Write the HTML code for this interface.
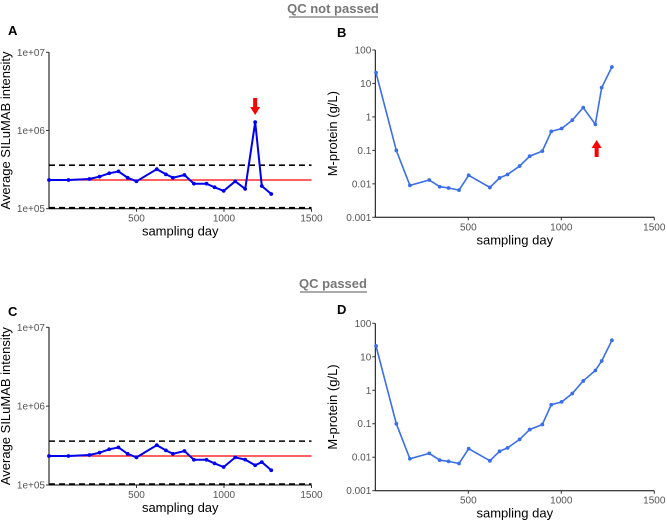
<!DOCTYPE html>
<html><head><meta charset="utf-8"><style>
body{margin:0;background:#fff}
svg{display:block;font-family:"Liberation Sans",Arial,sans-serif}
</style></head><body>
<svg id="s" width="667" height="522" xmlns="http://www.w3.org/2000/svg">
<text x="333" y="13" text-anchor="middle" font-size="13" font-weight="bold" fill="#777">QC not passed</text>
<line x1="289" y1="17" x2="378" y2="17" stroke="#777" stroke-width="1.2"/>
<text x="333" y="288" text-anchor="middle" font-size="13" font-weight="bold" fill="#777">QC passed</text>
<line x1="300" y1="292" x2="367" y2="292" stroke="#777" stroke-width="1.2"/>
</svg>
<script>
const daysA=[0,111,231,289,344,397,449,500,616,668,708,774,828,900,946,998,1064,1121,1178,1216,1270];
const silA=[2.33e5,2.33e5,2.4e5,2.57e5,2.84e5,3.0e5,2.49e5,2.24e5,3.2e5,2.75e5,2.49e5,2.7e5,2.09e5,2.09e5,1.88e5,1.69e5,2.24e5,1.79e5,1.28e6,1.95e5,1.54e5];
const silC=[2.33e5,2.33e5,2.4e5,2.57e5,2.84e5,3.0e5,2.49e5,2.24e5,3.2e5,2.75e5,2.49e5,2.7e5,2.09e5,2.09e5,1.88e5,1.69e5,2.24e5,2.1e5,1.78e5,1.95e5,1.54e5];
const refMean=[2.33e5];
const refLimits=[3.6e5,1.03e5];
const daysB=[4,113,186,290,346,394,450,502,616,668,711,776,830,898,946,1002,1059,1118,1183,1217,1272];
const mprotB=[21,0.1,0.009,0.013,0.0082,0.0075,0.0065,0.018,0.0078,0.015,0.019,0.034,0.067,0.095,0.37,0.45,0.8,1.9,0.6,7.5,31];
const mprotD=[21,0.1,0.009,0.013,0.0082,0.0075,0.0065,0.018,0.0078,0.015,0.019,0.034,0.067,0.095,0.37,0.45,0.8,1.9,3.9,7.5,31];
const xTicks=[500,1000,1500];
const silTicks=[1e5,1e6,1e7];
const silTickLabels=["1e+05","1e+06","1e+07"];
const mTicks=[0.001,0.01,0.1,1,10,100];
const mTickLabels=["0.001","0.01","0.1","1","10","100"];

const svg=document.getElementById('s');
const NS="http://www.w3.org/2000/svg";
function mk(tag,attrs,parent,name,inter){const e=document.createElementNS(NS,tag);for(const k in attrs)e.setAttribute(k,attrs[k]);(parent||svg).appendChild(e);


return e;}
function panel(cfg){
  const g=mk('g',{},svg,'panel-'+cfg.letter.toLowerCase(),false);
  const xs=d=>cfg.x0+(d/1500)*(cfg.x1-cfg.x0);
  const ys=v=>cfg.yb-(Math.log10(v)-Math.log10(cfg.vmin))/(Math.log10(cfg.vmax)-Math.log10(cfg.vmin))*(cfg.yb-cfg.yt);
  const t=mk('text',{x:cfg.lx,y:cfg.ly,'font-size':13,'font-weight':'bold',fill:'#000'},g,'panel-label-'+cfg.letter.toLowerCase(),false);t.textContent=cfg.letter;
  mk('line',{x1:cfg.x0,y1:cfg.yt,x2:cfg.x0,y2:cfg.yb,stroke:'#000','stroke-width':1},g,'y-axis-line',false);
  mk('line',{x1:cfg.x0,y1:cfg.yb,x2:cfg.x1,y2:cfg.yb,stroke:'#000','stroke-width':1},g,'x-axis-line',false);
  cfg.yTicks.forEach((v,i)=>{const y=ys(v);
    mk('line',{x1:cfg.x0-3,y1:y,x2:cfg.x0,y2:y,stroke:'#333'},g,'y-tick',false);
    const tt=mk('text',{x:cfg.x0-4,y:y+3.5,'font-size':10,fill:'#555','text-anchor':'end'},g,'y-tick-label',false);tt.textContent=cfg.yLabels[i];});
  xTicks.forEach(d=>{const x=xs(d);
    mk('line',{x1:x,y1:cfg.yb,x2:x,y2:cfg.yb+3,stroke:'#333'},g,'x-tick',false);
    const tt=mk('text',{x:x,y:cfg.yb+13,'font-size':10,fill:'#555','text-anchor':'middle'},g,'x-tick-label',false);tt.textContent=d;});
  const xt=mk('text',{x:(cfg.x0+cfg.x1)/2,y:cfg.yb+27,'font-size':13,fill:'#000','text-anchor':'middle'},g,'x-axis-title',false);xt.textContent='sampling day';
  const ytl=mk('text',{x:0,y:0,'font-size':13,fill:'#000','text-anchor':'middle',transform:`translate(${cfg.ytx},${(cfg.yt+cfg.yb)/2}) rotate(-90)`},g,'y-axis-title',false);ytl.textContent=cfg.ytitle;
  if(cfg.ref){
    refLimits.forEach(v=>mk('line',{x1:cfg.x0,y1:ys(v),x2:cfg.x1,y2:ys(v),stroke:'#000','stroke-width':1.6,'stroke-dasharray':'6,4'},g,'control-limit-line',false));
    mk('line',{x1:cfg.x0,y1:ys(refMean[0]),x2:cfg.x1,y2:ys(refMean[0]),stroke:'#f00','stroke-width':1.3},g,'mean-line',false);
  }
  const pts=cfg.days.map((d,i)=>xs(d).toFixed(1)+','+ys(cfg.vals[i]).toFixed(1)).join(' ');
  mk('polyline',{points:pts,fill:'none',stroke:cfg.color,'stroke-width':cfg.sw},g,'series-line',false);
  cfg.days.forEach((d,i)=>mk('circle',{cx:xs(d),cy:ys(cfg.vals[i]),r:1.9,fill:cfg.color},g,'series-point',false));
  if(cfg.arrow){const a=cfg.arrow;const x=xs(a.day);
    const p=a.dir<0?`M${x-2},${a.y0} L${x+2},${a.y0} L${x+2},${a.y0+9} L${x+5},${a.y0+9} L${x},${a.y0+17} L${x-5},${a.y0+9} L${x-2},${a.y0+9}Z`
      :`M${x-2},${a.y0+17} L${x+2},${a.y0+17} L${x+2},${a.y0+8} L${x+5},${a.y0+8} L${x},${a.y0} L${x-5},${a.y0+8} L${x-2},${a.y0+8}Z`;
    mk('path',{d:p,fill:'#f00'},g,'outlier-arrow',false);}
}
panel({letter:'A',lx:8,ly:35,x0:49,x1:311.5,yt:52.3,yb:208.7,vmin:1e5,vmax:1e7,yTicks:silTicks,yLabels:silTickLabels,ytx:10,ytitle:'Average SILuMAB intensity',ref:true,days:daysA,vals:silA,color:'#0000ee',sw:2,arrow:{day:1178,dir:-1,y0:98}});
panel({letter:'C',lx:8,ly:316,x0:49,x1:311.5,yt:327.3,yb:485,vmin:1e5,vmax:1e7,yTicks:silTicks,yLabels:silTickLabels,ytx:10,ytitle:'Average SILuMAB intensity',ref:true,days:daysA,vals:silC,color:'#0000ee',sw:2});
panel({letter:'B',lx:337,ly:37,x0:375.3,x1:654.3,yt:50,yb:217.3,vmin:0.001,vmax:100,yTicks:mTicks,yLabels:mTickLabels,ytx:337,ytitle:'M-protein (g/L)',days:daysB,vals:mprotB,color:'#3a6fe8',sw:1.6,arrow:{day:1190,dir:1,y0:140}});
panel({letter:'D',lx:337,ly:314,x0:375.3,x1:654.3,yt:323.3,yb:490.7,vmin:0.001,vmax:100,yTicks:mTicks,yLabels:mTickLabels,ytx:337,ytitle:'M-protein (g/L)',days:daysB,vals:mprotD,color:'#3a6fe8',sw:1.6});
</script>
</body></html>
